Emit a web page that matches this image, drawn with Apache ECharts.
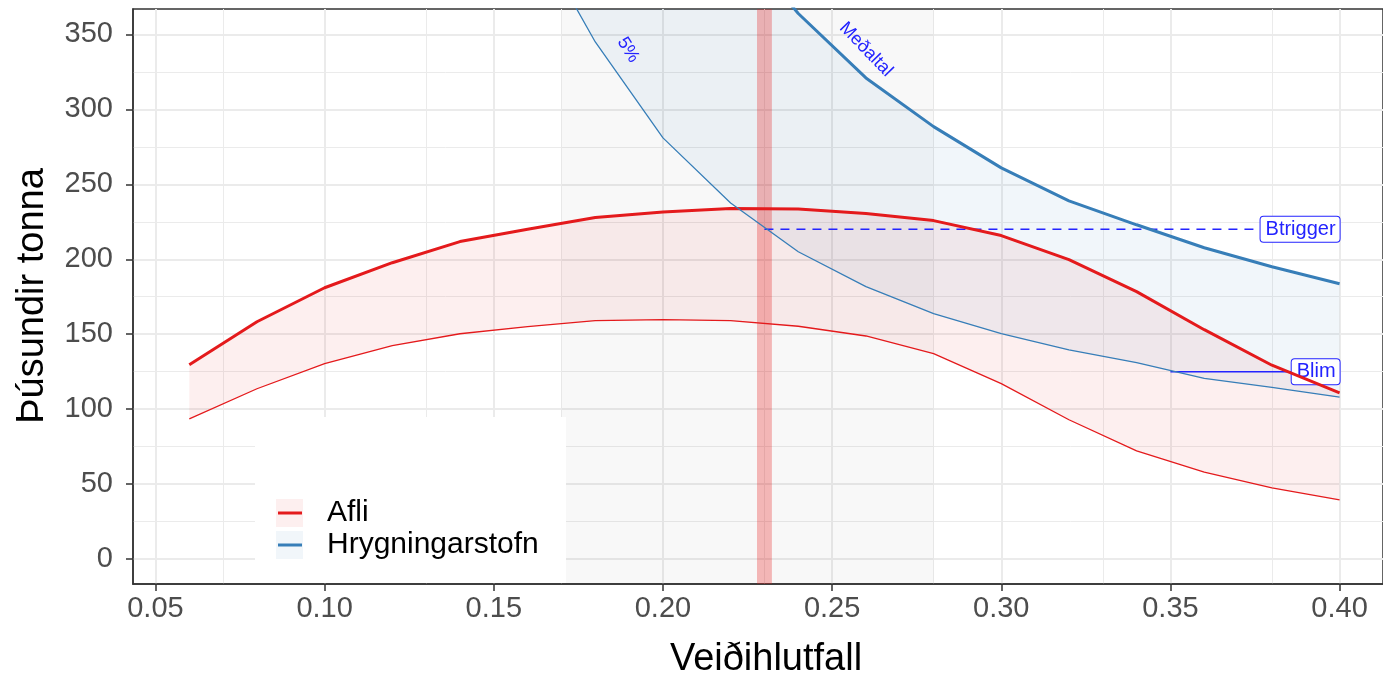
<!DOCTYPE html>
<html><head><meta charset="utf-8">
<script src="https://cdn.jsdelivr.net/npm/echarts@6/dist/echarts.min.js"></script>
<style>html,body{margin:0;padding:0;background:#fff}#c{width:1383px;height:675px}</style>
</head><body><div id="c"></div>
<script>
// ---------- data ----------
const F        = [0.06,0.08,0.10,0.12,0.14,0.16,0.18,0.20,0.22,0.24,0.26,0.28,0.30,0.32,0.34,0.36,0.38,0.40];
const afliMed  = [129.6,158.3,181.0,197.7,211.8,220.0,227.8,231.5,233.8,233.5,230.5,225.8,215.8,199.7,178.4,153.0,129.3,110.9];
const afliLow  = [93.5,113.6,130.3,142.3,150.3,155.0,159.0,159.7,159.0,155.3,148.8,137.0,117.0,92.9,72.1,58.0,47.4,39.4];
const ssbMed   = [null,null,null,null,null,620,540,475,418,364,321,288.5,261,239,223,207.7,195,183.7];
const ssbLow   = [null,null,null,null,null,425,345,281,237.5,205,181.7,163.7,150.3,139.6,131,120.5,114.5,108];
const btrigger = 220, blim = 125;
const btriggerFrom = 0.23, blimFrom = 0.35, refTo = 0.40;
const fRange   = [0.17, 0.28];
const fTarget  = [0.2278, 0.2322];
const xTicks   = [0.05,0.10,0.15,0.20,0.25,0.30,0.35,0.40];
const xMinor   = [0.075,0.125,0.175,0.225,0.275,0.325,0.375];
const yTicks   = [0,50,100,150,200,250,300,350];
const yMinor   = [25,75,125,175,225,275,325];
const curveLabels = [[0.1897,339.7,'5%',-58],[0.26,340,'Meðaltal',-46]];
const refLabels   = [[0.40,btrigger,'Btrigger'],[0.40,blim,'Blim']];

// ---------- style ----------
const RED = '#e41a1c', BLUE = '#377eb8', LBLUE = '#2323ff';
const FONT = '"Liberation Sans", Arial, sans-serif';

const pair = (xs, ys) => xs.map((x,i) => [x, ys[i]]);

const gridLines = [];
xTicks.forEach(v => gridLines.push({xAxis: v, lineStyle:{width:2, color:'#ebebeb', type:'solid'}}));
xMinor.forEach(v => gridLines.push({xAxis: v, lineStyle:{width:1, color:'#ebebeb', type:'solid'}}));
yTicks.forEach(v => gridLines.push({yAxis: v, lineStyle:{width:2, color:'#ebebeb', type:'solid'}}));
yMinor.forEach(v => gridLines.push({yAxis: v, lineStyle:{width:1, color:'#ebebeb', type:'solid'}}));

// clip polygon (pixel space) to y >= yTop
function clipTop(pts, yTop) {
  const out = [];
  for (let i = 0; i < pts.length; i++) {
    const a = pts[i], b = pts[(i+1) % pts.length];
    const ain = a[1] >= yTop, bin = b[1] >= yTop;
    if (ain) out.push(a);
    if (ain !== bin) {
      const t = (yTop - a[1]) / (b[1] - a[1]);
      out.push([a[0] + t*(b[0]-a[0]), yTop]);
    }
  }
  return out;
}
function ribbon(lo, hi, color) {
  const data = F.map((x,i)=>[x, lo[i], hi[i]]).filter(d=>d[1]!=null && d[2]!=null);
  return {type:'custom', z:2, silent:true, data, clip:true,
    encode:{x:0, y:[1,2]},
    renderItem:(params, api) => {
      if (params.dataIndex !== 0) return;
      const top = data.map(d=>api.coord([d[0], d[2]]));
      const bot = data.map(d=>api.coord([d[0], d[1]])).reverse();
      const cs = params.coordSys;
      const pts = clipTop(top.concat(bot), cs.y);
      return {type:'polygon', shape:{points:pts}, style:{fill:color}};
    }};
}

const chart = echarts.init(document.getElementById('c'), null, {renderer:'canvas'});
const noSym = {symbol:'none', silent:true};

chart.setOption({
  animation:false,
  grid:{left:133, right:-2, top:9, bottom:91, show:true, borderColor:'#333', borderWidth:1.5, containLabel:false},
  xAxis:{type:'value', min:0.04336, max:0.41283,
    axisLine:{show:true, onZero:false, lineStyle:{color:'#333', width:1.5}},
    axisTick:{show:true, length:7, customValues:xTicks, lineStyle:{color:'#333', width:1.5}},
    axisLabel:{customValues:xTicks, formatter:v=>v.toFixed(2), color:'#4d4d4d', fontSize:29, fontFamily:FONT, margin:10},
    splitLine:{show:false}},
  yAxis:{type:'value', min:-16.7, max:367,
    axisLine:{show:true, onZero:false, lineStyle:{color:'#333', width:1.5}},
    axisTick:{show:true, length:7, customValues:yTicks, lineStyle:{color:'#333', width:1.5}},
    axisLabel:{customValues:yTicks, color:'#4d4d4d', fontSize:29, fontFamily:FONT, margin:20},
    splitLine:{show:false}},
  series:[
    {type:'line', data:[], z:0, ...noSym,
      markLine:{z:0, silent:true, symbol:['none','none'], label:{show:false}, emphasis:{disabled:true}, data:gridLines}},
    {type:'line', data:[], z:1, ...noSym,
      markArea:{z:1, silent:true, itemStyle:{color:'rgba(0,0,0,0.027)'}, data:[[{xAxis:fRange[0]},{xAxis:fRange[1]}]]}},
    ribbon(afliLow, afliMed, 'rgba(228,26,28,0.07)'),
    ribbon(ssbLow, ssbMed, 'rgba(55,126,184,0.07)'),
    {type:'line', data:[], z:3, ...noSym,
      markArea:{z:3, silent:true, itemStyle:{color:'rgba(228,26,28,0.3)'}, data:[[{xAxis:fTarget[0]},{xAxis:fTarget[1]}]]}},
    {type:'line', data:[[btriggerFrom,btrigger],[refTo,btrigger]], z:3, ...noSym,
      lineStyle:{color:LBLUE, width:1.5, type:[9,7]}},
    {type:'line', data:[[blimFrom,blim],[refTo,blim]], z:3, ...noSym,
      lineStyle:{color:LBLUE, width:1.5}},
    {type:'scatter', data:refLabels, z:3, symbolSize:0, silent:true, itemStyle:{opacity:1},
      label:{show:true, position:'left', distance:0, formatter:p=>p.data[2], color:LBLUE, fontSize:20, fontFamily:FONT,
        backgroundColor:'#fff', borderColor:LBLUE, borderWidth:1, borderRadius:3, padding:[3,4,2,5]}},
    {type:'line', data:pair(F, afliLow), z:4, ...noSym, lineStyle:{color:RED, width:1.3}},
    {type:'line', data:pair(F, afliMed), z:4, ...noSym, lineStyle:{color:RED, width:3}},
    {type:'line', data:pair(F, ssbLow), z:4, ...noSym, lineStyle:{color:BLUE, width:1.3}},
    {type:'line', data:pair(F, ssbMed), z:4, ...noSym, lineStyle:{color:BLUE, width:3}},
    {type:'scatter', z:5, symbolSize:0, silent:true, itemStyle:{opacity:1},
      data:curveLabels.map(d=>({value:[d[0],d[1]], name:d[2], label:{rotate:d[3]}})),
      label:{show:true, position:'inside', formatter:p=>p.name, color:LBLUE, fontSize:18, fontFamily:FONT}}
  ],
  graphic:[
    {type:'rect', z:10, shape:{x:255, y:417, width:311, height:166}, style:{fill:'#fff'}},
    {type:'rect', z:11, shape:{x:276, y:499, width:27, height:28}, style:{fill:'rgba(228,26,28,0.07)'}},
    {type:'rect', z:11, shape:{x:276, y:531, width:27, height:28}, style:{fill:'rgba(55,126,184,0.07)'}},
    {type:'line', z:12, shape:{x1:278, y1:513, x2:302, y2:513}, style:{stroke:RED, lineWidth:3}},
    {type:'line', z:12, shape:{x1:278, y1:545, x2:302, y2:545}, style:{stroke:BLUE, lineWidth:3}},
    {type:'text', z:12, x:327, y:513, style:{text:'Afli', font:'30px '+FONT, fill:'#000', textVerticalAlign:'middle'}},
    {type:'text', z:12, x:327, y:545, style:{text:'Hrygningarstofn', font:'30px '+FONT, fill:'#000', textVerticalAlign:'middle'}},
    {type:'text', z:12, x:766, y:660, style:{text:'Veiðihlutfall', font:'38px '+FONT, fill:'#000', textAlign:'center', textVerticalAlign:'middle'}},
    {type:'text', z:12, x:33, y:296, rotation:Math.PI/2, style:{text:'Þúsundir tonna', font:'38px '+FONT, fill:'#000', textAlign:'center', textVerticalAlign:'middle'}}
  ]
});
</script></body></html>
